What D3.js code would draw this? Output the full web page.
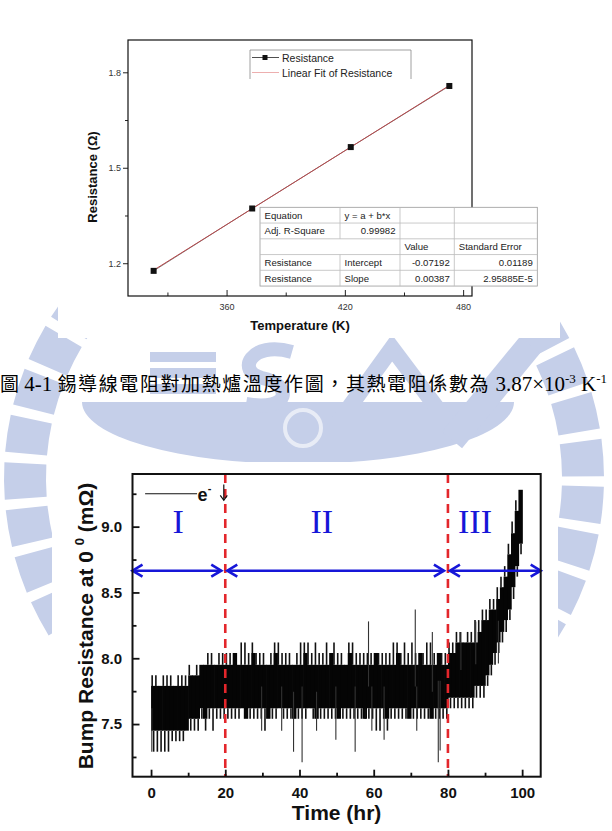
<!DOCTYPE html>
<html>
<head>
<meta charset="utf-8">
<script src="https://cdn.jsdelivr.net/npm/d3@7"></script>
<style>
body { margin: 0; background: #fff; }
</style>
</head>
<body>
<div id="page"></div>
<script>

// ---------- figure 4-1 : resistance against furnace temperature
var tempK = [323, 373, 423, 473];
var resistOhm = [1.176, 1.372, 1.565, 1.757];
var fitIntercept = -0.07192;
var fitSlope = 0.00387;
var tempTicks = [360, 420, 480];
var tempMinor = [330, 390, 450];
var resistTicks = [1.2, 1.5, 1.8];
var resistMinor = [1.35, 1.65];
var tableRows = [
  ["Equation", "y = a + b*x", "", ""],
  ["Adj. R-Square", "0.99982", "", ""],
  ["", "", "Value", "Standard Error"],
  ["Resistance", "Intercept", "-0.07192", "0.01189"],
  ["Resistance", "Slope", "0.00387", "2.95885E-5"]
];

// ---------- bump resistance against time, one bucket per hour (0..99 hr)
var hourStart = d3.range(0, 100);
var coreHigh = [
  7.79,7.79,7.79,7.79,7.79,7.79,7.79,7.79,7.79,7.79,
  7.87,7.87,7.87,7.95,7.95,7.95,7.95,7.95,7.95,7.95,
  7.95,7.95,8.04,7.95,7.95,7.95,7.95,8.04,7.95,7.95,
  7.95,7.95,7.95,8.04,7.95,7.95,7.95,7.95,7.95,7.95,
  7.95,8.04,7.95,7.95,7.95,7.95,7.95,7.95,8.04,7.95,
  7.95,7.95,7.95,8.04,7.95,7.95,7.95,7.95,7.95,7.95,
  8.04,7.95,7.95,7.95,7.95,7.95,8.04,7.95,7.95,7.95,
  7.95,7.95,8.04,7.95,7.95,7.95,7.95,8.04,7.95,7.95,
  8.04,8.04,8.12,8.12,8.12,8.12,8.12,8.12,8.20,8.29,
  8.29,8.37,8.37,8.45,8.54,8.62,8.79,8.95,9.12,9.28
];
var coreLow = [
  7.45,7.45,7.45,7.45,7.45,7.45,7.45,7.45,7.45,7.45,
  7.54,7.54,7.54,7.62,7.54,7.62,7.62,7.62,7.62,7.62,
  7.62,7.62,7.62,7.62,7.62,7.54,7.62,7.62,7.62,7.62,
  7.62,7.54,7.62,7.62,7.62,7.62,7.62,7.62,7.54,7.62,
  7.62,7.62,7.62,7.62,7.54,7.62,7.62,7.62,7.62,7.62,
  7.54,7.62,7.62,7.62,7.62,7.62,7.62,7.54,7.62,7.62,
  7.62,7.62,7.62,7.54,7.62,7.62,7.62,7.62,7.62,7.54,
  7.62,7.62,7.62,7.62,7.62,7.54,7.62,7.62,7.62,7.62,
  7.70,7.70,7.70,7.70,7.70,7.70,7.70,7.79,7.79,7.79,
  7.87,7.95,8.04,8.12,8.20,8.29,8.37,8.54,8.70,8.87
];
var peakHigh = [
  7.87,7.87,7.79,7.87,7.87,7.87,7.79,7.87,7.87,7.87,
  7.95,7.87,7.95,7.95,7.95,8.04,8.04,7.95,8.04,8.04,
  8.04,8.04,8.04,7.95,8.12,8.12,8.04,8.12,8.04,8.04,
  8.04,7.95,8.04,8.12,8.12,8.04,8.04,8.04,7.95,8.04,
  8.12,8.12,8.12,8.04,8.12,8.04,8.04,8.12,8.04,8.12,
  8.04,8.04,7.95,8.12,8.12,8.04,8.04,8.04,8.04,8.04,
  8.04,8.04,8.04,8.04,8.04,8.12,8.12,8.04,8.12,8.04,
  8.12,8.04,8.04,8.04,8.12,8.12,8.04,8.04,8.04,8.04,
  8.12,8.12,8.20,8.20,8.12,8.20,8.20,8.29,8.29,8.37,
  8.37,8.45,8.45,8.54,8.62,8.70,8.87,9.04,9.20,9.28
];
var peakLow = [
  7.29,7.29,7.29,7.29,7.29,7.37,7.37,7.37,7.37,7.45,
  7.45,7.45,7.45,7.54,7.45,7.54,7.45,7.54,7.54,7.54,
  7.54,7.54,7.54,7.54,7.62,7.54,7.54,7.54,7.54,7.54,
  7.45,7.54,7.54,7.54,7.62,7.54,7.54,7.54,7.54,7.54,
  7.54,7.54,7.62,7.54,7.54,7.54,7.54,7.54,7.54,7.54,
  7.54,7.54,7.54,7.54,7.54,7.54,7.54,7.62,7.54,7.54,
  7.45,7.45,7.54,7.45,7.54,7.54,7.54,7.54,7.54,7.54,
  7.54,7.54,7.54,7.54,7.54,7.54,7.54,7.54,7.54,7.54,
  7.62,7.62,7.62,7.62,7.62,7.62,7.62,7.70,7.70,7.70,
  7.79,7.87,7.95,8.04,8.12,8.20,8.29,8.45,8.62,8.79
];
// isolated long excursions
var spikeTime  = [0.2, 29.8, 35.2, 38.4, 40.7, 44.6, 49.8, 55.0, 58.6, 59.5, 62.8, 71.2, 71.6, 75.8, 77.4, 77.9, 83.5, 87.5, 93.6];
var spikeValue = [7.29, 7.45, 7.45, 7.29, 7.21, 7.45, 7.38, 7.29, 8.28, 7.45, 7.38, 8.37, 7.45, 8.20, 7.21, 7.30, 8.20, 8.28, 7.96];
var timeTicks = [0, 20, 40, 60, 80, 100];
var timeMinor = [10, 30, 50, 70, 90];
var bumpTicks = [7.5, 8.0, 8.5, 9.0];
var bumpMinor = [7.25, 7.75, 8.25, 8.75, 9.25];
var stageBounds = [20, 80];
var stageSpans = [[-5, 20], [20, 80], [80, 105]];
var stageNames = ["I", "II", "III"];
var stageNameAt = [7.3, 46, 87.3];
var stageArrowAt = 8.665;

var sans = "Arial, 'Liberation Sans', sans-serif";
var serif = "'Liberation Serif', 'Times New Roman', serif";
var cjk = "'Noto Sans CJK TC', 'Noto Sans CJK SC', sans-serif";

var svg = d3.select("#page").append("svg")
    .attr("width", 612)
    .attr("height", 831)
    .attr("font-family", sans);

// ---------- faint university watermark behind the page
var wmColor = "#c5cfe9";
var wm = svg.append("g").attr("fill", wmColor);
var ring = wm.append("g").attr("transform", "translate(304,478)");
for (var a = 0; a < 2 * Math.PI; a += 0.16) {
  ring.append("path").attr("d", d3.arc()({innerRadius: 258, outerRadius: 300, startAngle: a, endAngle: a + 0.125}));
}
// ship hull, stripes and letter shapes around the caption
wm.append("path").attr("d", "M82,402 A216,62 0 0 0 514,402 Z");
[352, 368, 384].forEach(function(yy) {
  wm.append("rect").attr("x", 150).attr("y", yy).attr("width", 66).attr("height", 10);
});
wm.append("path").attr("fill", "none").attr("stroke", wmColor).attr("stroke-width", 14)
  .attr("d", "M292,352 C250,340 236,372 262,378 C292,384 292,412 246,404");
wm.append("path").attr("fill", "none").attr("stroke", wmColor).attr("stroke-width", 16)
  .attr("d", "M340,420 L392,348 L446,420 Z");
wm.append("path").attr("fill", "none").attr("stroke", wmColor).attr("stroke-width", 26)
  .attr("d", "M530,345 L452,440");
wm.append("circle").attr("cx", 303).attr("cy", 428).attr("r", 18)
  .attr("fill", "none").attr("stroke", "#fff").attr("stroke-width", 4).attr("opacity", 0.6);

// the two pasted plots have white backgrounds
svg.append("rect").attr("x", 58).attr("y", 0).attr("width", 502).attr("height", 338).attr("fill", "#fff");
svg.append("rect").attr("x", 52).attr("y", 462).attr("width", 506).attr("height", 369).attr("fill", "#fff");

// =====================================================================
// top plot
var x1 = d3.scaleLinear().domain([310, 484.5]).range([128, 472]);
var y1 = d3.scaleLinear().domain([1.097, 1.9015]).range([296, 40]);
var g1 = svg.append("g");

g1.append("g")
    .attr("transform", "translate(128,0)")
    .call(d3.axisLeft(y1).tickValues(resistTicks).tickSize(5).tickPadding(2).tickFormat(d3.format(".1f")));
g1.append("g")
    .attr("transform", "translate(128,0)")
    .call(d3.axisLeft(y1).tickValues(resistMinor).tickSize(3).tickFormat(""));
g1.append("g")
    .attr("transform", "translate(0,296)")
    .call(d3.axisBottom(x1).tickValues(tempTicks).tickSizeInner(-6).tickSizeOuter(0).tickPadding(7.5).tickFormat(d3.format("d")));
g1.append("g")
    .attr("transform", "translate(0,296)")
    .call(d3.axisBottom(x1).tickValues(tempMinor).tickSizeInner(-3.5).tickSizeOuter(0).tickFormat(""));
g1.selectAll(".domain").remove();
g1.selectAll(".tick line").attr("stroke", "#222");
g1.selectAll(".tick text").attr("font-size", 9).attr("fill", "#333").attr("font-family", sans);

g1.append("rect")
    .attr("x", 128).attr("y", 40).attr("width", 344).attr("height", 256)
    .attr("fill", "none").attr("stroke", "#111").attr("stroke-width", 1.2);

// measured points and the straight fit
g1.append("path")
    .datum(tempK)
    .attr("fill", "none").attr("stroke", "#333").attr("stroke-width", 0.6)
    .attr("d", d3.line().x(function(d) { return x1(d); }).y(function(d, i) { return y1(resistOhm[i]); }));
g1.append("line")
    .attr("x1", x1(tempK[0])).attr("y1", y1(fitIntercept + fitSlope * tempK[0]))
    .attr("x2", x1(tempK[3])).attr("y2", y1(fitIntercept + fitSlope * tempK[3]))
    .attr("stroke", "#b8474a").attr("stroke-width", 1);
g1.selectAll(".pt").data(tempK).join("rect")
    .attr("class", "pt")
    .attr("x", function(d) { return x1(d) - 3; })
    .attr("y", function(d, i) { return y1(resistOhm[i]) - 3; })
    .attr("width", 6).attr("height", 6)
    .attr("fill", "#111");

// legend
var lg = g1.append("g");
lg.append("rect").attr("x", 250).attr("y", 50).attr("width", 161).attr("height", 29).attr("fill", "#fff");
lg.append("path").attr("d", "M250,79 V50 H411 V79").attr("fill", "none").attr("stroke", "#888").attr("stroke-width", 0.8);
lg.append("line").attr("x1", 252).attr("x2", 279).attr("y1", 57.5).attr("y2", 57.5).attr("stroke", "#222").attr("stroke-width", 0.8);
lg.append("rect").attr("x", 262.5).attr("y", 55).attr("width", 5).attr("height", 5).attr("fill", "#111");
lg.append("line").attr("x1", 252).attr("x2", 279).attr("y1", 72.5).attr("y2", 72.5).attr("stroke", "#e89a9a").attr("stroke-width", 0.8);
lg.append("text").attr("x", 282).attr("y", 61.5).attr("font-size", 10.5).attr("fill", "#222").text("Resistance");
lg.append("text").attr("x", 282).attr("y", 76.5).attr("font-size", 10.5).attr("fill", "#222").text("Linear Fit of Resistance");

// fit report table
var colX = [260, 340, 400, 454.3, 537.3];
var rowH = 15.75, rowTop = 207.3;
var tb = g1.append("g");
tb.append("rect").attr("x", colX[0]).attr("y", rowTop).attr("width", colX[4] - colX[0]).attr("height", rowH * 5)
    .attr("fill", "#fff").attr("stroke", "#999").attr("stroke-width", 0.8);
for (var r = 1; r < 5; r++) {
  tb.append("line").attr("x1", colX[0]).attr("x2", colX[4]).attr("y1", rowTop + r * rowH).attr("y2", rowTop + r * rowH)
    .attr("stroke", "#bbb").attr("stroke-width", 0.8);
}
for (var c = 1; c < 4; c++) {
  tableRows.forEach(function(row, r) {
    if (c === 1 && r === 2) return;
    tb.append("line").attr("x1", colX[c]).attr("x2", colX[c]).attr("y1", rowTop + r * rowH).attr("y2", rowTop + (r + 1) * rowH)
      .attr("stroke", "#bbb").attr("stroke-width", 0.8);
  });
}
var rightAligned = {"0.99982": 1, "-0.07192": 1, "0.01189": 1, "0.00387": 1, "2.95885E-5": 1};
tableRows.forEach(function(row, r) {
  row.forEach(function(cell, c) {
    if (!cell) return;
    var right = rightAligned[cell];
    tb.append("text")
      .attr("x", right ? colX[c + 1] - 4.5 : colX[c] + 4.5)
      .attr("y", rowTop + r * rowH + 11.3)
      .attr("text-anchor", right ? "end" : "start")
      .attr("font-size", 9.6).attr("fill", "#222")
      .text(cell);
  });
});

g1.append("text")
    .attr("transform", "translate(97,177) rotate(-90)")
    .attr("text-anchor", "middle").attr("font-size", 13).attr("font-weight", "bold").attr("fill", "#111")
    .text("Resistance (\u03A9)");
g1.append("text")
    .attr("x", 300).attr("y", 330)
    .attr("text-anchor", "middle").attr("font-size", 13).attr("font-weight", "bold").attr("fill", "#111")
    .text("Temperature (K)");

// ---------- caption between the plots
var cap = svg.append("text").attr("x", 0).attr("y", 391).attr("fill", "#000");
cap.append("tspan").attr("font-family", cjk).attr("font-size", 19).text("圖");
cap.append("tspan").attr("font-family", serif).attr("font-size", 21).text(" 4-1 ");
cap.append("tspan").attr("font-family", cjk).attr("font-size", 19).attr("letter-spacing", 1.6)
    .text("錫導線電阻對加熱爐溫度作圖，其熱電阻係數為");
cap.append("tspan").attr("font-family", serif).attr("font-size", 21).text(" 3.87\u00D710");
cap.append("tspan").attr("font-family", serif).attr("font-size", 13).attr("dy", -8).text("-3");
cap.append("tspan").attr("font-family", serif).attr("font-size", 21).attr("dy", 8).text(" K");
cap.append("tspan").attr("font-family", serif).attr("font-size", 13).attr("dy", -8).text("-1");

// =====================================================================
// bottom plot
var x2 = d3.scaleLinear().domain([-5, 105]).range([132.5, 540.7]);
var y2 = d3.scaleLinear().domain([7.1, 9.4]).range([776.7, 474]);
var g2 = svg.append("g");

// dense measurement band
var band = g2.append("g");
band.selectAll(".core").data(hourStart).join("rect")
    .attr("class", "core")
    .attr("x", function(t) { return x2(t); })
    .attr("width", function(t) { return x2(t + 1) - x2(t) + 0.7; })
    .attr("y", function(t, i) { return y2(coreHigh[i]); })
    .attr("height", function(t, i) { return y2(coreLow[i]) - y2(coreHigh[i]); })
    .attr("fill", "#050505");
band.selectAll(".up").data(hourStart).join("line")
    .attr("class", "up")
    .attr("x1", function(t) { return x2(t + 0.3); }).attr("x2", function(t) { return x2(t + 0.3); })
    .attr("y1", function(t, i) { return y2(coreHigh[i]); })
    .attr("y2", function(t, i) { return y2(peakHigh[i]); })
    .attr("stroke", "#111").attr("stroke-width", 1.6);
band.selectAll(".down").data(hourStart).join("line")
    .attr("class", "down")
    .attr("x1", function(t) { return x2(t + 0.7); }).attr("x2", function(t) { return x2(t + 0.7); })
    .attr("y1", function(t, i) { return y2(coreLow[i]); })
    .attr("y2", function(t, i) { return y2(peakLow[i]); })
    .attr("stroke", "#111").attr("stroke-width", 1.6);
band.selectAll(".spike").data(spikeTime).join("line")
    .attr("class", "spike")
    .attr("x1", function(t) { return x2(t); }).attr("x2", function(t) { return x2(t); })
    .attr("y1", function(t, i) { return y2((coreHigh[Math.floor(t)] + coreLow[Math.floor(t)]) / 2); })
    .attr("y2", function(t, i) { return y2(spikeValue[i]); })
    .attr("stroke", "#333").attr("stroke-width", 1.1);

// stage boundaries
g2.selectAll(".bound").data(stageBounds).join("line")
    .attr("class", "bound")
    .attr("x1", function(d) { return x2(d); }).attr("x2", function(d) { return x2(d); })
    .attr("y1", 474).attr("y2", 776.7)
    .attr("stroke", "#e3262b").attr("stroke-width", 2.6).attr("stroke-dasharray", "9,6");

// stage arrows
var blue = "#1616d8";
var ay = y2(stageArrowAt);
stageSpans.forEach(function(s, k) {
  var xa = x2(s[0]) + (k === 0 ? 0 : 2);
  var xb = x2(s[1]) - (k === 2 ? 0 : 4);
  g2.append("line").attr("x1", xa).attr("x2", xb).attr("y1", ay).attr("y2", ay)
    .attr("stroke", blue).attr("stroke-width", 2.6);
  g2.append("path").attr("d", "M" + (xa + 10) + "," + (ay - 6) + " L" + xa + "," + ay + " L" + (xa + 10) + "," + (ay + 6))
    .attr("fill", "none").attr("stroke", blue).attr("stroke-width", 2.6);
  g2.append("path").attr("d", "M" + (xb - 10) + "," + (ay - 6) + " L" + xb + "," + ay + " L" + (xb - 10) + "," + (ay + 6))
    .attr("fill", "none").attr("stroke", blue).attr("stroke-width", 2.6);
});
g2.selectAll(".stage").data(stageNames).join("text")
    .attr("class", "stage")
    .attr("x", function(d, i) { return x2(stageNameAt[i]); })
    .attr("y", 532.7)
    .attr("text-anchor", "middle")
    .attr("font-family", serif).attr("font-size", 34).attr("fill", blue)
    .text(function(d) { return d; });

// electron flow marker
g2.append("line").attr("x1", x2(-1.6)).attr("x2", x2(12.4)).attr("y1", y2(9.25)).attr("y2", y2(9.25))
    .attr("stroke", "#111").attr("stroke-width", 1.2);
g2.append("text").attr("x", x2(12.4) + 0.5).attr("y", y2(9.25) + 7)
    .attr("font-size", 18).attr("font-weight", "bold").attr("fill", "#111").text("e");
g2.append("text").attr("x", x2(15.3)).attr("y", y2(9.25) - 2)
    .attr("font-size", 11).attr("font-weight", "bold").attr("fill", "#111").text("-");
g2.append("line").attr("x1", x2(19.6)).attr("x2", x2(19.6)).attr("y1", y2(9.32)).attr("y2", y2(9.2))
    .attr("stroke", "#111").attr("stroke-width", 1.2);
g2.append("path")
    .attr("d", "M" + (x2(19.6) - 3.5) + "," + (y2(9.2) - 5) + " L" + x2(19.6) + "," + y2(9.2) + " L" + (x2(19.6) + 3.5) + "," + (y2(9.2) - 5))
    .attr("fill", "none").attr("stroke", "#111").attr("stroke-width", 1.2);

// axes, ticks inward
var ax = g2.append("g");
ax.append("g").attr("transform", "translate(0,776.7)")
    .call(d3.axisBottom(x2).tickValues(timeTicks).tickSizeInner(-7).tickSizeOuter(0).tickPadding(10.6).tickFormat(d3.format("d")));
ax.append("g").attr("transform", "translate(0,776.7)")
    .call(d3.axisBottom(x2).tickValues(timeMinor).tickSizeInner(-4).tickSizeOuter(0).tickFormat(""));
ax.append("g").attr("transform", "translate(132.5,0)")
    .call(d3.axisLeft(y2).tickValues(bumpTicks).tickSizeInner(-7).tickSizeOuter(0).tickPadding(10.5).tickFormat(d3.format(".1f")));
ax.append("g").attr("transform", "translate(132.5,0)")
    .call(d3.axisLeft(y2).tickValues(bumpMinor).tickSizeInner(-4).tickSizeOuter(0).tickFormat(""));
ax.selectAll(".domain").remove();
ax.selectAll(".tick line").attr("stroke", "#111").attr("stroke-width", 1.8);
ax.selectAll(".tick text").attr("font-size", 15).attr("font-weight", "bold").attr("fill", "#111")
    .attr("font-family", sans);

g2.append("rect")
    .attr("x", 132.5).attr("y", 474).attr("width", 408.2).attr("height", 302.7)
    .attr("fill", "none").attr("stroke", "#111").attr("stroke-width", 2);

g2.append("text")
    .attr("x", 336.6).attr("y", 820)
    .attr("text-anchor", "middle").attr("font-size", 21).attr("font-weight", "bold").attr("fill", "#111")
    .text("Time (hr)");
var yl = g2.append("text")
    .attr("transform", "translate(93,626) rotate(-90)")
    .attr("text-anchor", "middle").attr("font-size", 21).attr("font-weight", "bold").attr("fill", "#111");
yl.append("tspan").text("Bump Resistance at 0 ");
yl.append("tspan").attr("font-size", 13).attr("dy", -9).text("0");
yl.append("tspan").attr("dy", 9).text(" (m\u03A9)");

</script>
</body>
</html>
